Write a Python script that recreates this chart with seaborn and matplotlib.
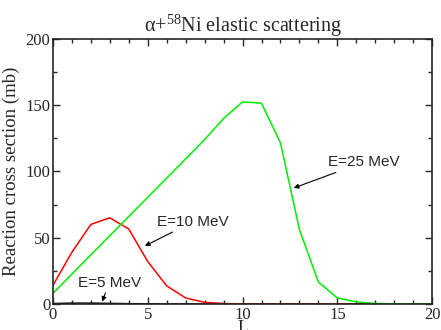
import numpy as np
import pandas as pd
import matplotlib
matplotlib.use('Agg')
import matplotlib.pyplot as plt
import seaborn as sns
from matplotlib.ticker import MultipleLocator

# partial wave L
L = list(range(0, 21))
# reaction cross section per partial wave (mb)
sigma_5 = [0.3, 0.6, 0.6, 0.4, 0.2, 0.1, 0.0, 0.0, 0.0, 0.0, 0.0,
           0.0, 0.0, 0.0, 0.0, 0.0, 0.0, 0.0, 0.0, 0.0, 0.0]
sigma_10 = [14, 39, 60, 65, 56.5, 32, 13.6, 4.5, 1.2, 0.3, 0.05,
            0, 0, 0, 0, 0, 0, 0, 0, 0, 0]
sigma_25 = [8, 22.5, 37, 51.5, 66, 80.5, 95, 109.5, 124, 140, 152.5,
            151.5, 121.5, 56, 16.5, 4.5, 1.5, 0.4, 0.1, 0, 0]
labels = ['E=5 MeV', 'E=10 MeV', 'E=25 MeV']

df = pd.DataFrame({
    'L': L * 3,
    'sigma': sigma_5 + sigma_10 + sigma_25,
    'E': [labels[0]] * 21 + [labels[1]] * 21 + [labels[2]] * 21,
})

sns.set_style('ticks')
plt.rcParams['font.family'] = ['Liberation Serif', 'DejaVu Serif']
plt.rcParams['mathtext.fontset'] = 'custom'
plt.rcParams['mathtext.rm'] = 'Liberation Serif'

fig = plt.figure(figsize=(4.41, 3.30), dpi=100)
ax = fig.add_axes([0.120, 0.079, 0.860, 0.803])

sns.lineplot(data=df, x='L', y='sigma', hue='E',
             palette=['black', '#ff0000', '#00ee00'],
             linewidth=1.1, legend=False, ax=ax)

ax.set_xlim(0, 20)
ax.set_ylim(0, 200)
ax.xaxis.set_major_locator(MultipleLocator(5))
ax.xaxis.set_minor_locator(MultipleLocator(1))
ax.yaxis.set_major_locator(MultipleLocator(50))
ax.yaxis.set_minor_locator(MultipleLocator(25))
ax.tick_params(which='both', direction='in', top=True, right=True,
               labelsize=12, width=1, pad=2)
ax.tick_params(which='major', length=5)
ax.tick_params(which='minor', length=3)
for sp in ax.spines.values():
    sp.set_linewidth(1.2)

ax.set_xlabel('L', fontsize=13, labelpad=-2)
ax.set_ylabel('Reaction cross section (mb)', fontsize=13.5, labelpad=4)
ax.set_title('α+$\\mathregular{^{58}}$Ni elastic scattering', fontsize=14.5, pad=5)

ann = dict(fontsize=11, family='Liberation Sans', va='center', ha='left',
           arrowprops=dict(arrowstyle='-|>', color='black', lw=0.8,
                           mutation_scale=7, shrinkA=0, shrinkB=0))
ax.annotate('E=25 MeV', xy=(12.7, 87.5), xytext=(14.5, 107), **ann)
ax.annotate('E=10 MeV', xy=(4.85, 43.8), xytext=(5.5, 62), **ann)
ax.annotate('E=5 MeV', xy=(2.6, 1.7), xytext=(1.3, 16), **ann)

fig.savefig('out.png', dpi=100)
